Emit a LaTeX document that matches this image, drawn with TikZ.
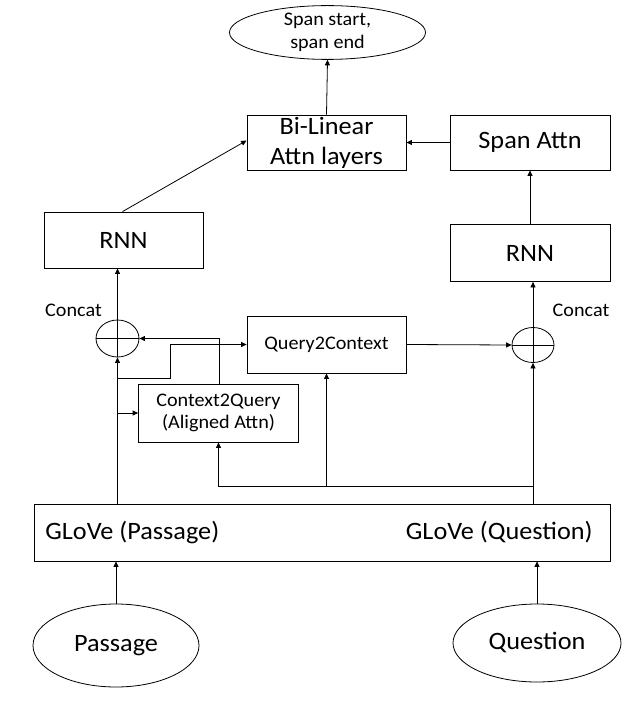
\documentclass[tikz,border=0pt]{standalone}
\usepackage{fontspec}
\setmainfont{Carlito}[FakeStretch=1.05]
\usetikzlibrary{arrows.meta,shapes.geometric}
\begin{document}
\begin{tikzpicture}[x=1pt,y=-1pt,
  line width=0.8pt,
  arr/.style={-{Triangle[length=5.5pt,width=5pt]}},
  bigtxt/.style={font=\fontsize{25}{30}\selectfont},
  smalltxt/.style={font=\fontsize{19.2}{22.5}\selectfont},
  box/.style={draw,rectangle,inner sep=0pt,align=center},
  oval/.style={draw,ellipse,inner sep=0pt,align=center},
  plus/.style={draw,ellipse,inner sep=0pt,
    path picture={\draw (path picture bounding box.north) -- (path picture bounding box.south)
                        (path picture bounding box.west) -- (path picture bounding box.east);}}
]
\useasboundingbox (0,0) rectangle (639,703);
% nodes
\node[oval,smalltxt,minimum width=196pt,minimum height=51pt] (out) at (327.5,32.5) {Span start,\\span end};
\node[box,bigtxt,minimum width=159pt,minimum height=55pt] (bil) at (326.5,142.5) {Bi-Linear\\Attn layers};
\node[box,bigtxt,minimum width=160pt,minimum height=55pt] (span) at (530,142.5) {Span Attn};
\node[box,bigtxt,minimum width=159pt,minimum height=56pt] (rnnL) at (123.5,240) {RNN};
\node[box,bigtxt,minimum width=160pt,minimum height=57pt] (rnnR) at (530,253) {RNN};
\node[plus,minimum width=43pt,minimum height=37pt] (catL) at (117.5,338.5) {};
\node[plus,minimum width=42pt,minimum height=35pt] (catR) at (533,345) {};
\node[smalltxt] (catLl) at (73.5,310) {Concat};
\node[smalltxt] (catRl) at (581,310) {Concat};
\node[box,smalltxt,minimum width=159pt,minimum height=57pt] (q2c) at (326.5,344.5) {Query2Context};
\node[box,smalltxt,minimum width=160pt,minimum height=58pt] (c2q) at (218.5,413) {Context2Query\\(Aligned Attn)};
\node[box,minimum width=576pt,minimum height=57pt] (glove) at (322,532.5) {};
\node[bigtxt,anchor=west,inner sep=0pt] (gp) at (45,532) {GLoVe (Passage)};
\node[bigtxt,anchor=east,inner sep=0pt] (gq) at (593,532) {GLoVe (Question)};
\node[oval,bigtxt,minimum width=166pt,minimum height=83pt] (pass) at (116,645.5) {Passage};
\node[oval,bigtxt,minimum width=168pt,minimum height=78pt] (ques) at (537,643) {Question};
\coordinate (b1) at (117.5,378);
\coordinate (bq) at (533,486);
% connectors
\draw[arr] (pass.north) -- (pass.north |- glove.south);
\draw[arr] (ques.north) -- (ques.north |- glove.south);
\draw[arr] (catL |- glove.north) -- (catL.south);
\draw[arr] (catL.north) -- (catL |- rnnL.south);
\draw[arr] ([xshift=-1pt]rnnL.north) -- ([yshift=2pt]bil.west);
\draw[arr] (span.west) -- (bil.east);
\draw[arr] (rnnR.north) -- (span.south);
\draw[arr] (bil.north) -- (out.south);
\draw[arr] (catR |- glove.north) -- (catR.south);
\draw[arr] (catR.north) -- (catR |- rnnR.south);
\draw[arr] (q2c.east) -- (catR.west);
\draw[arr] (catL |- c2q.west) -- (c2q.west);
\draw[arr] (b1) -| (170,344.5) -- (q2c.west);
\draw[arr] ([xshift=0.5pt]c2q.north) |- (catL.east);
\draw[arr] (bq) -| (c2q.south);
\draw[arr] (q2c.south |- bq) -- (q2c.south);
\end{tikzpicture}
\end{document}
